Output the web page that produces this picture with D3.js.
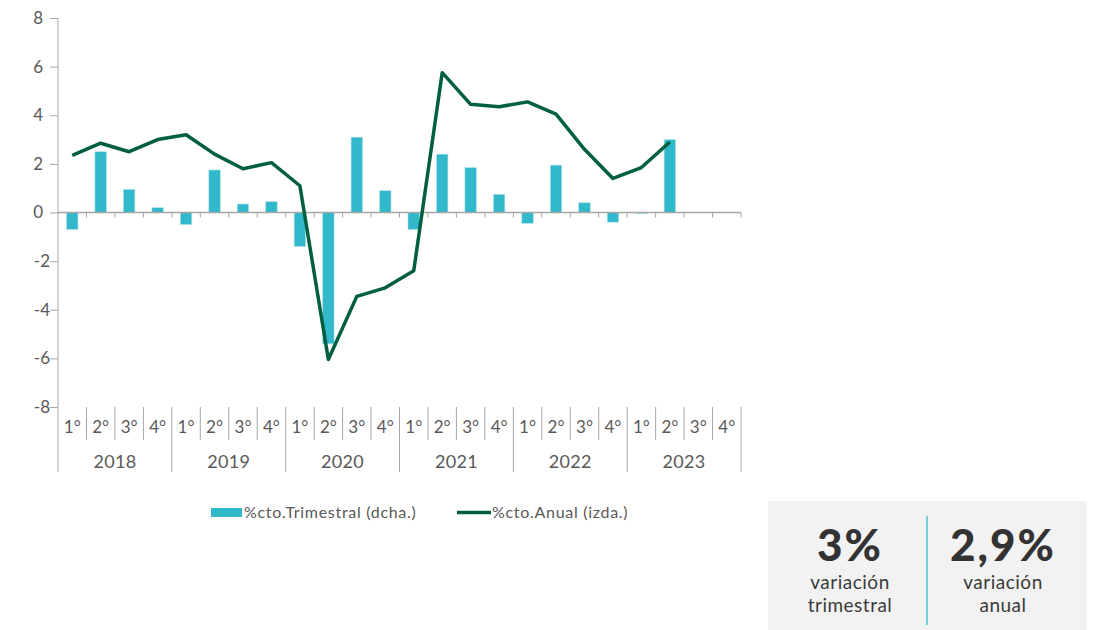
<!DOCTYPE html>
<html>
<head>
<meta charset="utf-8">
<script src="https://cdn.jsdelivr.net/npm/d3@7"></script>
<style>
  body { margin: 0; background: #fff; }
  svg text { font-family: Lato, "Noto Sans", sans-serif; }
</style>
</head>
<body>
<script>
var width = 1099,
    height = 630;

// datos
var years = ["2018", "2019", "2020", "2021", "2022", "2023"];
var quarters = ["1°", "2°", "3°", "4°"];
var trimestral = [-0.7, 2.5, 0.95, 0.2,  -0.5, 1.75, 0.35, 0.45,  -1.4, -5.4, 3.1, 0.9,
                  -0.7, 2.4, 1.85, 0.75,  -0.45, 1.95, 0.4, -0.4,  -0.05, 3.0, null, null];
var anual = [2.35, 2.85, 2.5, 3.0,  3.2, 2.4, 1.8, 2.05,  1.1, -6.05, -3.45, -3.1,
             -2.4, 5.75, 4.45, 4.35,  4.55, 4.05, 2.6, 1.4,  1.85, 2.9, null, null];
var yTicks = [-8, -6, -4, -2, 0, 2, 4, 6, 8];
var statValues = ["3%", "2,9%"];
var statLabels = [["variación", "trimestral"], ["variación", "anual"]];

var barColor = "#31b8ca",
    lineColor = "#005f3f",
    axisColor = "#a6a6a6",
    textColor = "#595959";

var svg = d3.select("body").append("svg")
    .attr("width", width)
    .attr("height", height);

var idx = d3.range(years.length * quarters.length);

var x = d3.scaleBand()
    .domain(idx)
    .range([58, 741]);

var y = d3.scaleLinear()
    .domain([-8, 8])
    .range([407, 18]);

// eje y
var yAxis = svg.append("g")
    .attr("transform", "translate(58,0)")
    .call(d3.axisLeft(y).tickValues(yTicks).tickSize(8).tickFormat(d3.format("d")));
yAxis.select(".domain").remove();
yAxis.selectAll(".tick line").attr("stroke", axisColor);
yAxis.selectAll(".tick text")
    .attr("fill", textColor)
    .attr("font-size", 17)
    .attr("x", function (d) { return d < 0 ? -8 : -15; })
    .text(function (d) { return d; });

// línea vertical del eje (se extiende hasta las etiquetas)
svg.append("line")
    .attr("x1", 58).attr("x2", 58)
    .attr("y1", y(8)).attr("y2", 472)
    .attr("stroke", axisColor);

// barras
var bw = 11.5;
svg.append("g").selectAll("rect")
    .data(idx.filter(function (i) { return trimestral[i] !== null; }))
    .enter().append("rect")
    .attr("x", function (i) { return x(i) + x.bandwidth() / 2 - bw / 2; })
    .attr("y", function (i) { return y(Math.max(0, trimestral[i])); })
    .attr("width", bw)
    .attr("height", function (i) { return Math.max(1, Math.abs(y(trimestral[i]) - y(0))); })
    .attr("fill", barColor)
    .attr("stroke", "#b9e6ed")
    .attr("stroke-width", 0.6);

// eje x en cero
var bounds = idx.map(function (i) { return x(i); }).concat([x.range()[1]]);
svg.append("line")
    .attr("x1", 58).attr("x2", 741)
    .attr("y1", y(0)).attr("y2", y(0))
    .attr("stroke", axisColor).attr("stroke-width", 1.5);
svg.append("g").selectAll("line")
    .data(bounds.slice(1))
    .enter().append("line")
    .attr("x1", function (d) { return d; }).attr("x2", function (d) { return d; })
    .attr("y1", y(0)).attr("y2", y(0) + 5)
    .attr("stroke", axisColor);

// línea anual
var line = d3.line()
    .defined(function (i) { return anual[i] !== null; })
    .x(function (i) { return x(i) + x.bandwidth() / 2; })
    .y(function (i) { return y(anual[i]); });
svg.append("path")
    .attr("d", line(idx))
    .attr("fill", "none")
    .attr("stroke", lineColor)
    .attr("stroke-width", 3.5)
    .attr("stroke-linejoin", "round");

// etiquetas de categorías (trimestre / año)
var cat = svg.append("g");
bounds.forEach(function (b, k) {
    var isYear = k % 4 === 0;
    if (k === 0) return;
    cat.append("line")
        .attr("x1", b).attr("x2", b)
        .attr("y1", 407).attr("y2", isYear ? 472 : 440)
        .attr("stroke", axisColor);
});
cat.selectAll("text.q")
    .data(idx)
    .enter().append("text")
    .attr("class", "q")
    .attr("x", function (i) { return x(i) + x.bandwidth() / 2; })
    .attr("y", 433)
    .attr("text-anchor", "middle")
    .attr("font-size", 17)
    .attr("fill", textColor)
    .text(function (i) { return quarters[i % 4]; });
cat.selectAll("text.y")
    .data(years)
    .enter().append("text")
    .attr("class", "y")
    .attr("x", function (d, k) { return x(k * 4) + x.bandwidth() * 2; })
    .attr("y", 468)
    .attr("text-anchor", "middle")
    .attr("font-size", 18)
    .attr("letter-spacing", 0.3)
    .attr("fill", textColor)
    .text(function (d) { return d; });

// leyenda
var leg = svg.append("g");
leg.append("rect").attr("x", 211).attr("y", 508).attr("width", 31).attr("height", 9).attr("fill", barColor);
leg.append("text").attr("x", 244).attr("y", 518).attr("font-size", 16).attr("letter-spacing", 0.7)
    .attr("fill", textColor)
    .text("%cto.Trimestral (dcha.)");
leg.append("line").attr("x1", 457).attr("x2", 491).attr("y1", 512.5).attr("y2", 512.5)
    .attr("stroke", lineColor).attr("stroke-width", 3.5);
leg.append("text").attr("x", 492).attr("y", 518).attr("font-size", 16).attr("letter-spacing", 0.7)
    .attr("fill", textColor)
    .text("%cto.Anual (izda.)");

// recuadro de datos
var box = svg.append("g");
box.append("rect").attr("x", 768).attr("y", 501).attr("width", 319).attr("height", 129).attr("fill", "#f2f2f2");
box.append("line").attr("x1", 927).attr("x2", 927).attr("y1", 516).attr("y2", 625)
    .attr("stroke", "#4fc0d0").attr("stroke-width", 1.5);
var cx = [850, 1003];
statValues.forEach(function (v, k) {
    box.append("text").attr("x", cx[k]).attr("y", 561).attr("text-anchor", "middle")
        .attr("font-size", 44).attr("font-weight", 900).attr("letter-spacing", 2)
        .attr("fill", "#333")
        .text(v);
    statLabels[k].forEach(function (t, j) {
        box.append("text").attr("x", cx[k]).attr("y", 589 + j * 23).attr("text-anchor", "middle")
            .attr("font-size", 19).attr("letter-spacing", 0.5).attr("fill", "#3a3a3a")
            .text(t);
    });
});
</script>
</body>
</html>
